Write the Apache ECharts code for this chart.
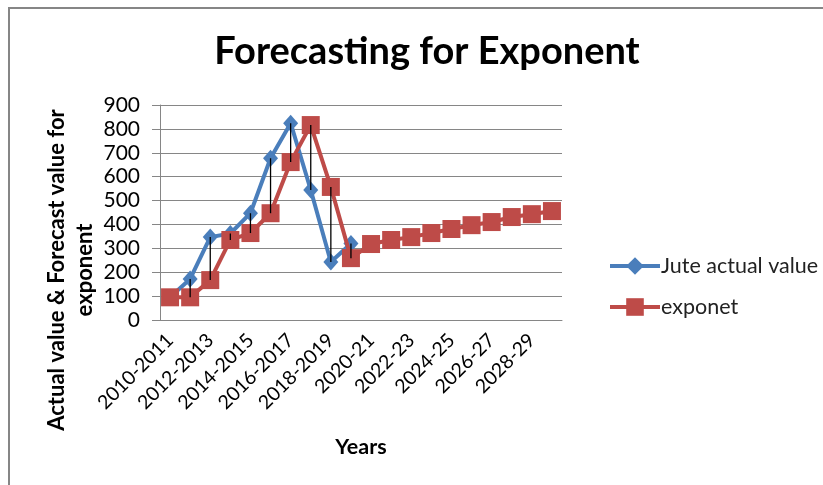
<!DOCTYPE html>
<html>
<head>
<meta charset="utf-8">
<script src="https://cdn.jsdelivr.net/npm/echarts@6/dist/echarts.min.js"></script>
<style>
  html, body { margin: 0; padding: 0; background: #fff; }
  #chart { width: 823px; height: 485px; }
</style>
</head>
<body>
<div id="chart"></div>
<script>
// Season labels along the category axis
const years = [
  '2010-2011', '2011-2012', '2012-2013', '2013-2014', '2014-2015',
  '2015-2016', '2016-2017', '2017-2018', '2018-2019', '2019-2020',
  '2020-21', '2021-22', '2022-23', '2023-24', '2024-25',
  '2025-26', '2026-27', '2027-28', '2028-29', '2029-30'
];

// Observed jute values (available through 2019-2020)
const juteActual = [95, 172, 347, 362, 447, 677, 824, 544, 243, 320];

// Exponential smoothing forecast
const exponet = [95, 95, 167, 335, 364, 447, 661, 816, 557, 259,
                 318, 335, 347, 364, 381, 397, 410, 431, 443, 456];

const yTicks = { min: 0, max: 900, interval: 100 };

const FONT = 'Lato, "Open Sans", sans-serif';

// Vertical high-low connectors between actual and forecast per category
const hiLo = juteActual.map((v, i) => [i, v, exponet[i]]);

const chart = echarts.init(document.getElementById('chart'), null, { renderer: 'canvas' });

chart.setOption({
  backgroundColor: '#ffffff',
  animation: false,
  title: {
    text: 'Forecasting for Exponent',
    left: 422,
    top: 28,
    textAlign: 'center',
    textStyle: { fontFamily: FONT, fontWeight: 'bold', fontSize: 38, color: '#000' }
  },
  graphic: [
    {
      type: 'rect',
      shape: { x: 9, y: 8, width: 1000, height: 700 },
      style: { fill: 'none', stroke: '#868686', lineWidth: 2 },
      silent: true
    },
    {
      type: 'text',
      x: 71,
      y: 270,
      rotation: Math.PI / 2,
      style: {
        text: 'Actual value & Forecast value for\nexponent',
        textAlign: 'center',
        textVerticalAlign: 'middle',
        fontFamily: FONT,
        fontWeight: 'bold',
        fontSize: 22,
        lineHeight: 28,
        fill: '#000'
      }
    }
  ],
  legend: {
    orient: 'vertical',
    left: 603,
    top: 250,
    itemGap: 19,
    itemWidth: 50,
    itemHeight: 22,
    lineStyle: { width: 4 },
    data: ['Jute actual value', 'exponet'],
    textStyle: { fontFamily: FONT, fontSize: 21.5, color: '#222', padding: [0, 0, 0, -4] }
  },
  grid: { left: 160, right: 261, top: 105, bottom: 165, containLabel: false },
  xAxis: {
    type: 'category',
    data: years,
    boundaryGap: true,
    name: 'Years',
    nameLocation: 'middle',
    nameGap: 116,
    nameTextStyle: { fontFamily: FONT, fontWeight: 'bold', fontSize: 21.5, color: '#000' },
    axisLine: { lineStyle: { color: '#868686', width: 1 } },
    axisTick: { show: false },
    axisLabel: {
      interval: 1,
      rotate: 45,
      margin: 17,
      fontFamily: FONT,
      fontSize: 19.5,
      color: '#000'
    }
  },
  yAxis: {
    type: 'value',
    min: yTicks.min,
    max: yTicks.max,
    interval: yTicks.interval,
    axisLine: { show: true, lineStyle: { color: '#868686', width: 1 } },
    axisTick: { show: true, length: 8, lineStyle: { color: '#868686' } },
    axisLabel: { fontFamily: FONT, fontSize: 21, color: '#000', margin: 20 },
    splitLine: { lineStyle: { color: '#868686', width: 1 } }
  },
  series: [
    {
      name: 'Jute actual value',
      type: 'line',
      data: juteActual,
      symbol: 'diamond',
      symbolSize: [15, 17],
      showAllSymbol: true,
      lineStyle: { color: '#4a7ebb', width: 4 },
      itemStyle: { color: '#4a7ebb' },
      z: 3
    },
    {
      name: 'exponet',
      type: 'line',
      data: exponet,
      symbol: 'rect',
      symbolSize: 18,
      showAllSymbol: true,
      lineStyle: { color: '#be4b48', width: 4 },
      itemStyle: { color: '#be4b48' },
      z: 4
    },
    {
      name: 'hilo',
      type: 'custom',
      data: hiLo,
      z: 10,
      silent: true,
      renderItem: function (params, api) {
        const a = api.coord([api.value(0), api.value(1)]);
        const b = api.coord([api.value(0), api.value(2)]);
        return {
          type: 'line',
          shape: { x1: a[0], y1: a[1], x2: b[0], y2: b[1] },
          style: { stroke: '#000', lineWidth: 1.3 }
        };
      }
    }
  ]
});
</script>
</body>
</html>
